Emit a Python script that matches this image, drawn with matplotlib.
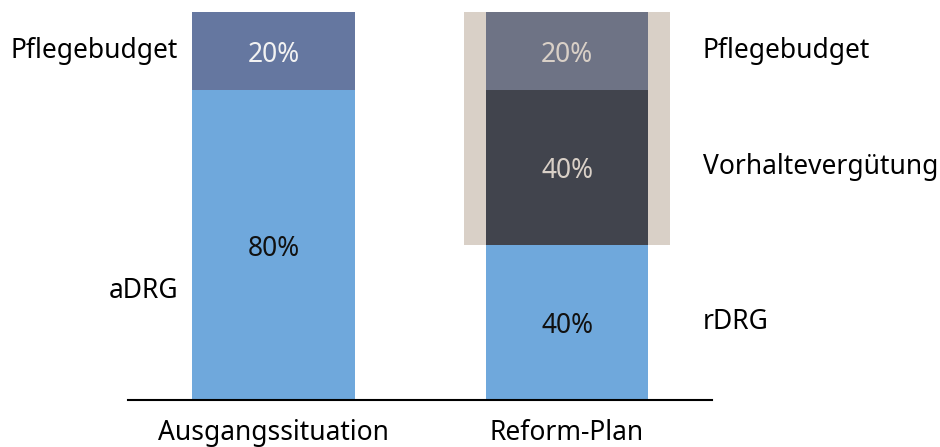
import numpy as np
import matplotlib.pyplot as plt

plt.rcParams['font.family'] = ['Noto Sans', 'DejaVu Sans']

scenarios = ['Ausgangssituation', 'Reform-Plan']

# left bar (status quo): aDRG at the bottom, Pflegebudget on top
base_parts = ['aDRG', 'Pflegebudget']
base_values = [80, 20]

# right bar (reform): rDRG, Vorhaltevergütung, Pflegebudget
reform_parts = ['rDRG', 'Vorhaltevergütung', 'Pflegebudget']
reform_values = [40, 40, 20]

blue = '#6fa8dc'
base_colors = [blue, '#6577a0']
reform_colors = [blue, '#41444d', '#6e7385']
base_text = ['#111111', '#f2f2f2']
reform_text = ['#111111', '#d9d0c7', '#d9d0c7']
highlight = '#d9d0c7'
fs = 19

fig = plt.figure(figsize=(9.4, 4.47), dpi=100)
ax = fig.add_axes([0, 47 / 447, 1, 388 / 447])

bar_w = 0.555

# shaded box behind the non-DRG part of the reform bar
hl_bottom = reform_values[0]
ax.bar(1, sum(reform_values[1:]), bottom=hl_bottom, width=0.70,
       color=highlight, zorder=1)

bottom = 0
for val, col, tc in zip(base_values, base_colors, base_text):
    ax.bar(0, val, bottom=bottom, width=bar_w, color=col, zorder=2)
    ax.text(0, bottom + val / 2 - 1, f'{val}%', ha='center', va='center',
            fontsize=fs, color=tc, zorder=3)
    bottom += val

bottom = 0
for val, col, tc in zip(reform_values, reform_colors, reform_text):
    ax.bar(1, val, bottom=bottom, width=bar_w, color=col, zorder=2)
    ax.text(1, bottom + val / 2 - 1, f'{val}%', ha='center', va='center',
            fontsize=fs, color=tc, zorder=3)
    bottom += val

# segment names beside the bars
ax.text(-0.325, 28, base_parts[0], ha='right', va='center', fontsize=fs)
ax.text(-0.325, 90, base_parts[1], ha='right', va='center', fontsize=fs)
cum = np.cumsum([0] + reform_values[:-1])
for name, val, b in zip(reform_parts, reform_values, cum):
    ax.text(1.463, b + val / 2, name, ha='left', va='center', fontsize=fs)

# baseline
ax.plot([-0.495, 1.495], [0, 0], color='black', lw=1.5, clip_on=False, zorder=4)

ax.set_xlim(-273.5 / 293.5, (940 - 273.5) / 293.5)
ax.set_ylim(0, 100)
ax.set_xticks([0, 1])
ax.set_xticklabels(scenarios, fontsize=fs)
ax.tick_params(axis='x', length=0, pad=14)
ax.set_yticks([])
for s in ax.spines.values():
    s.set_visible(False)

fig.savefig('out.png', dpi=100)
